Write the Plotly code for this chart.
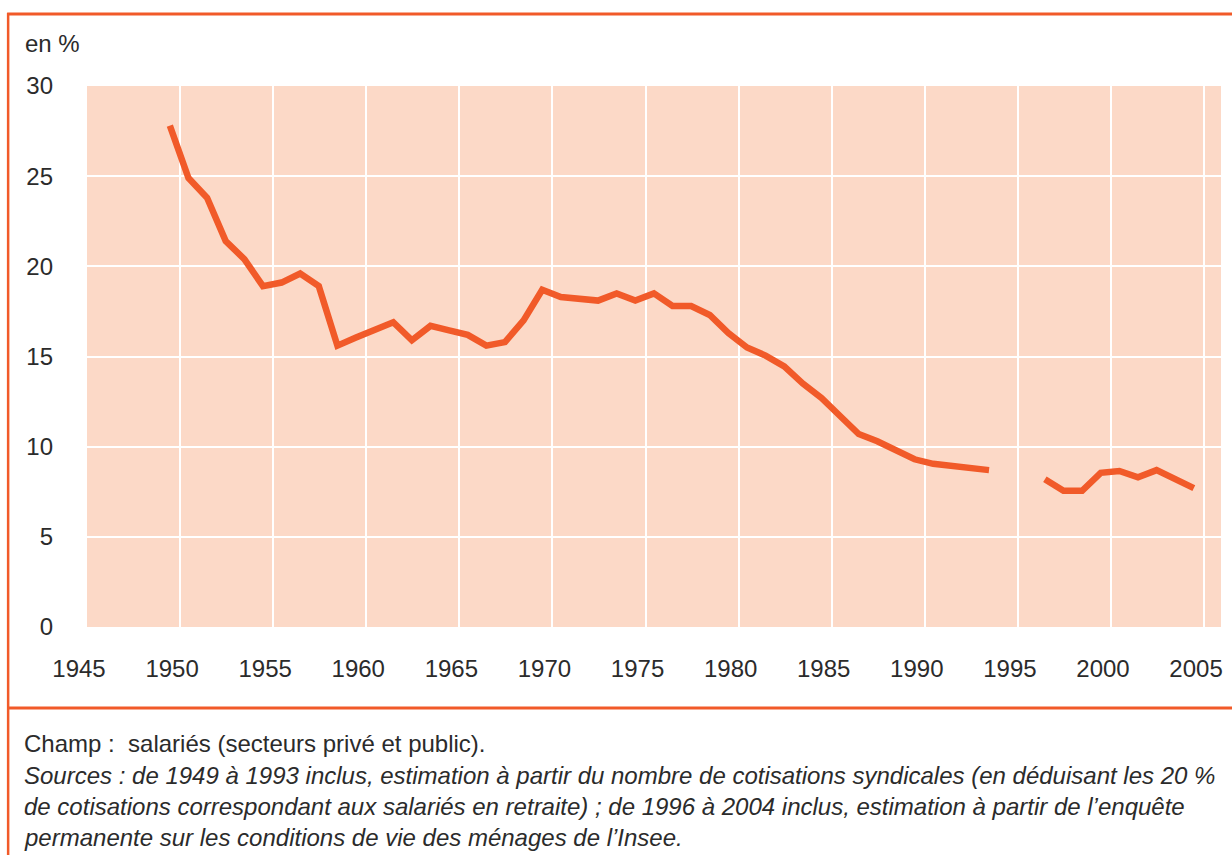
import plotly.graph_objects as go

# ---- data ----
years_a = list(range(1949, 1994))
rate_a = [27.8, 24.9, 23.8, 21.4, 20.4, 18.9, 19.1, 19.6, 18.9, 15.6,
          16.05, 16.5, 16.9, 15.9, 16.7, 16.45, 16.2, 15.6, 15.8, 17.0,
          18.7, 18.3, 18.2, 18.1, 18.5, 18.1, 18.5, 17.8, 17.8, 17.3,
          16.3, 15.5, 15.05, 14.45, 13.5, 12.7, 11.7, 10.7, 10.3, 9.8,
          9.3, 9.05, 8.95, 8.85, 8.7]
years_b = list(range(1996, 2005))
rate_b = [8.2, 7.55, 7.55, 8.55, 8.65, 8.3, 8.7, 8.2, 7.7]

x_ticks = list(range(1945, 2010, 5))
y_ticks = [0, 5, 10, 15, 20, 25, 30]

unit_label = "en %"
note_lines = [
    "Champ :  salariés (secteurs privé et public).",
    "<i>Sources : de 1949 à 1993 inclus, estimation à partir du nombre de cotisations syndicales (en déduisant les 20 %</i>",
    "<i>de cotisations correspondant aux salariés en retraite) ; de 1996 à 2004 inclus, estimation à partir de l’enquête</i>",
    "<i>permanente sur les conditions de vie des ménages de l’Insee.</i>",
]

# ---- styling ----
W, H = 1232, 855
ML, MR, MT, MB = 87, 9, 86, 228
PW, PH = W - ML - MR, H - MT - MB
ORANGE = "#F15A29"
PINK = "#FCD9C7"
TEXT = "#2b2b2b"
FONT = "Liberation Sans, Arial, sans-serif"
MID_YEAR = 0.45  # points sit mid-year between gridlines


def px(x):
    return (x - ML) / PW


def py(y):
    return (H - MB - y) / PH


fig = go.Figure()
fig.add_trace(go.Scatter(
    x=[y + MID_YEAR for y in years_a], y=rate_a, mode="lines",
    line=dict(color=ORANGE, width=6.5), hoverinfo="skip", showlegend=False))
fig.add_trace(go.Scatter(
    x=[y + MID_YEAR for y in years_b], y=rate_b, mode="lines",
    line=dict(color=ORANGE, width=6.5), hoverinfo="skip", showlegend=False))

fig.update_layout(
    width=W, height=H,
    margin=dict(l=ML, r=MR, t=MT, b=MB, pad=0),
    paper_bgcolor="white", plot_bgcolor=PINK,
    font=dict(family=FONT, size=24, color=TEXT),
    showlegend=False,
)
fig.update_xaxes(
    range=[1945, 2005.91], tickvals=x_ticks, ticktext=[str(v) for v in x_ticks],
    showgrid=True, gridcolor="white", gridwidth=2, zeroline=False,
    showline=False, ticks="", ticklabelstandoff=25, ticklabelshift=-8,
    tickfont=dict(size=24, color=TEXT, family=FONT), fixedrange=True,
)
fig.update_yaxes(
    range=[0, 30], tickvals=y_ticks, ticktext=[str(v) for v in y_ticks],
    showgrid=True, gridcolor="white", gridwidth=2, zeroline=False,
    showline=False, ticks="", ticklabelstandoff=33,
    tickfont=dict(size=24, color=TEXT, family=FONT), fixedrange=True,
)

# frame lines
shapes = [
    dict(type="line", xref="paper", yref="paper", x0=px(8), x1=px(8), y0=py(13), y1=py(870),
         line=dict(color=ORANGE, width=2.5)),
    dict(type="line", xref="paper", yref="paper", x0=px(7), x1=px(1250), y0=py(14), y1=py(14),
         line=dict(color=ORANGE, width=3)),
    dict(type="line", xref="paper", yref="paper", x0=px(7), x1=px(1250), y0=py(708), y1=py(708),
         line=dict(color=ORANGE, width=3)),
]
fig.update_layout(shapes=shapes)

annotations = [
    dict(text=unit_label, xref="paper", yref="paper", x=px(23), y=py(43),
         xanchor="left", yanchor="middle", showarrow=False,
         font=dict(size=24, color=TEXT, family=FONT)),
]
note_y = [743, 775, 806, 837]
for line, yy in zip(note_lines, note_y):
    annotations.append(dict(text=line, xref="paper", yref="paper", x=px(22), y=py(yy),
                            xanchor="left", yanchor="middle", showarrow=False,
                            font=dict(size=24, color=TEXT, family=FONT)))
fig.update_layout(annotations=annotations)

fig.write_html("out.html", config={"displayModeBar": False},
               post_script="document.body.style.margin='0';")
